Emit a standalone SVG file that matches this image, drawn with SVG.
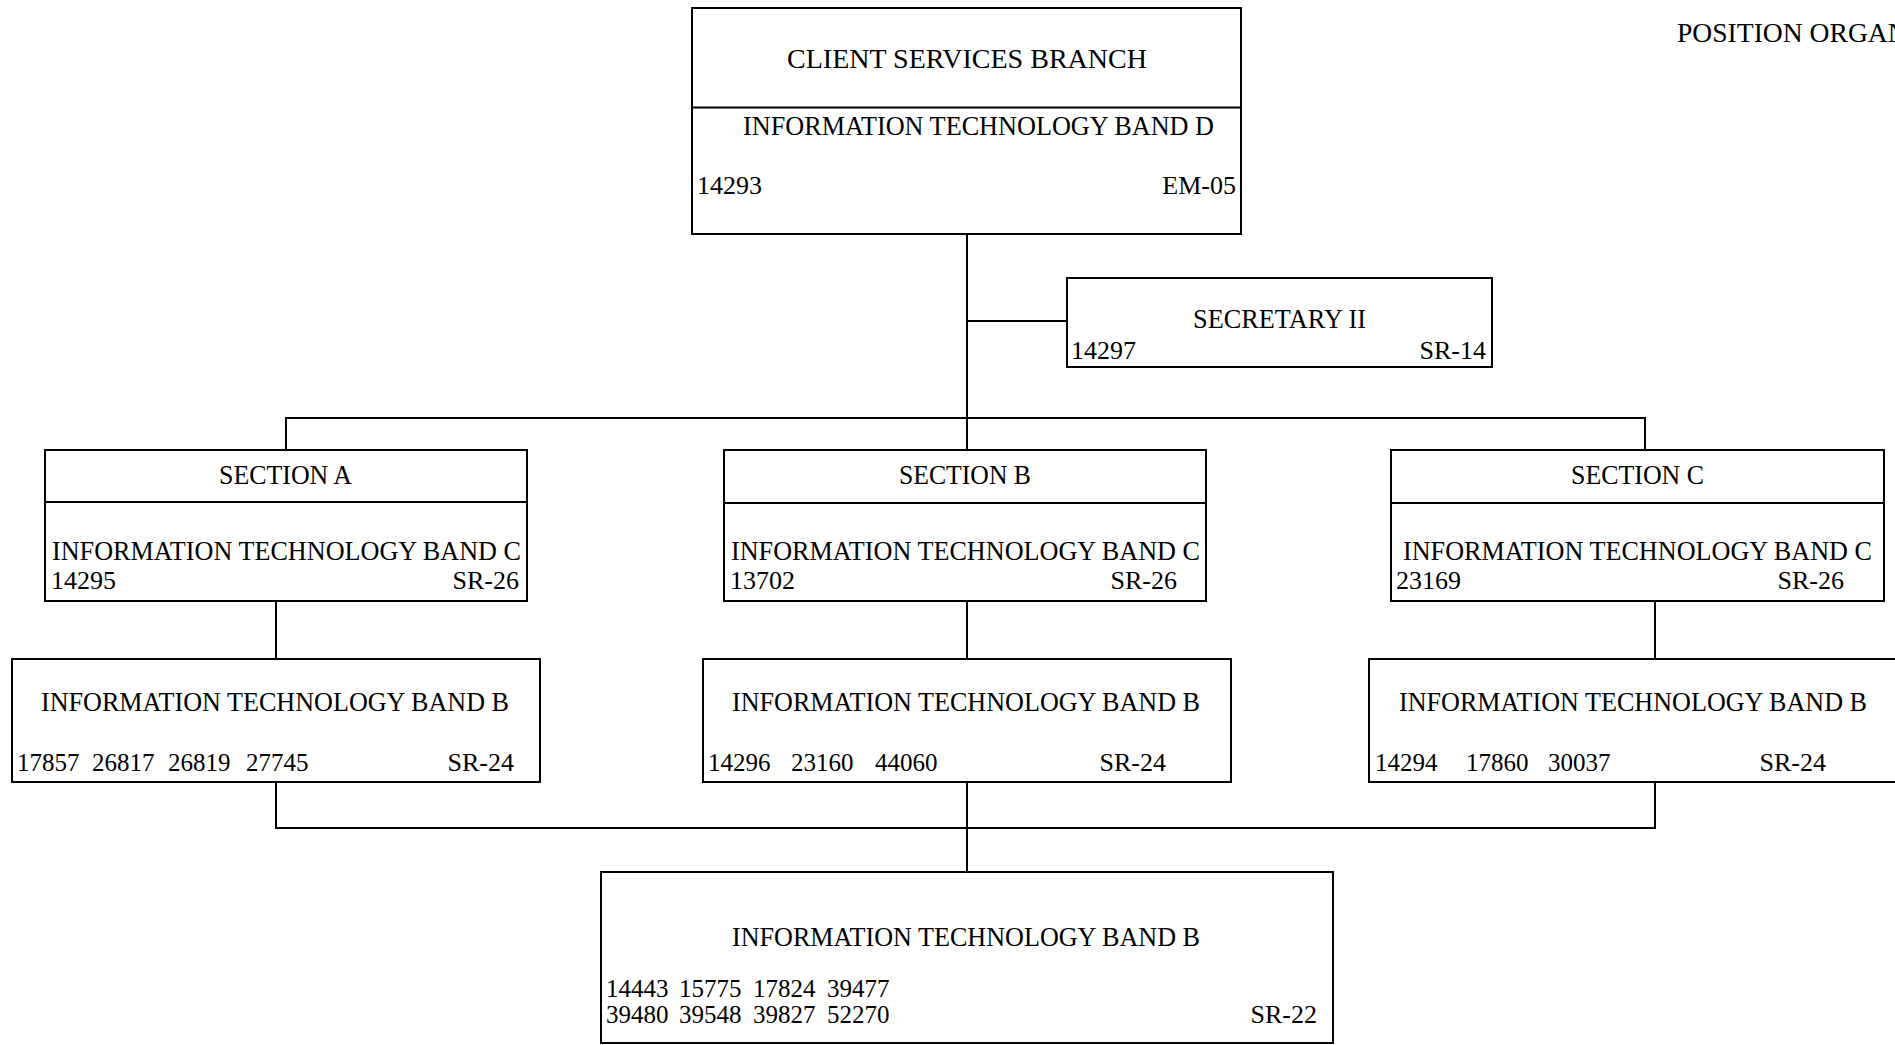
<svg xmlns="http://www.w3.org/2000/svg" width="1895" height="1045" viewBox="0 0 1895 1045">
<style>
  .box { fill: #fff; stroke: #000; stroke-width: 2; }
  .div { stroke: #000; stroke-width: 2; fill: none; }
  .conn { stroke: #000; stroke-width: 2; fill: none; }
  text { font-family: "Liberation Serif", "Times New Roman", serif; fill: #000; }
  .t { font-size: 27.6px; }
  .n { font-size: 26px; }
  .r { font-size: 25px; }
  .m { text-anchor: middle; }
  .e { text-anchor: end; }
</style>
<rect width="1895" height="1045" fill="#fff"/>
<g id="connectors">
  <path class="conn" d="M967 234 V418"/>
  <path class="conn" d="M967 321 H1067"/>
  <path class="conn" d="M286 450 V418 H1645 V450"/>
  <path class="conn" d="M967 418 V450"/>
  <path class="conn" d="M276 601 V659"/>
  <path class="conn" d="M967 601 V659"/>
  <path class="conn" d="M1655 601 V659"/>
  <path class="conn" d="M276 782 V828 H1655 V782"/>
  <path class="conn" d="M967 782 V872"/>
</g>
<g id="title">
  <text class="t" x="1677" y="42">POSITION ORGAN</text>
</g>
<g id="node-branch">
  <rect class="box" x="692" y="8" width="549" height="226"/>
  <line class="div" x1="692" y1="107.5" x2="1241" y2="107.5"/>
  <text class="t" x="787" y="68" textLength="360" lengthAdjust="spacingAndGlyphs">CLIENT SERVICES BRANCH</text>
  <text class="t" x="743" y="135" textLength="471" lengthAdjust="spacingAndGlyphs">INFORMATION TECHNOLOGY BAND D</text>
  <text class="n" x="697" y="194">14293</text>
  <text class="n e" x="1236" y="194">EM-05</text>
</g>
<g id="node-secretary">
  <rect class="box" x="1067" y="278" width="425" height="89"/>
  <text class="t" x="1193" y="328" textLength="173" lengthAdjust="spacingAndGlyphs">SECRETARY II</text>
  <text class="n" x="1071" y="359">14297</text>
  <text class="n e" x="1486" y="359">SR-14</text>
</g>
<g id="node-section-a">
  <rect class="box" x="45" y="450" width="482" height="151"/>
  <line class="div" x1="45" y1="502" x2="527" y2="502"/>
  <text class="t" x="219" y="484" textLength="133" lengthAdjust="spacingAndGlyphs">SECTION A</text>
  <text class="t" x="52" y="560" textLength="469" lengthAdjust="spacingAndGlyphs">INFORMATION TECHNOLOGY BAND C</text>
  <text class="n" x="51" y="589">14295</text>
  <text class="n e" x="519" y="589">SR-26</text>
</g>
<g id="node-section-b">
  <rect class="box" x="724" y="450" width="482" height="151"/>
  <line class="div" x1="724" y1="503" x2="1206" y2="503"/>
  <text class="t" x="899" y="484" textLength="132" lengthAdjust="spacingAndGlyphs">SECTION B</text>
  <text class="t" x="731" y="560" textLength="469" lengthAdjust="spacingAndGlyphs">INFORMATION TECHNOLOGY BAND C</text>
  <text class="n" x="730" y="589">13702</text>
  <text class="n e" x="1177" y="589">SR-26</text>
</g>
<g id="node-section-c">
  <rect class="box" x="1391" y="450" width="493" height="151"/>
  <line class="div" x1="1391" y1="503" x2="1884" y2="503"/>
  <text class="t" x="1571" y="484" textLength="133" lengthAdjust="spacingAndGlyphs">SECTION C</text>
  <text class="t" x="1403" y="560" textLength="469" lengthAdjust="spacingAndGlyphs">INFORMATION TECHNOLOGY BAND C</text>
  <text class="n" x="1396" y="589">23169</text>
  <text class="n e" x="1844" y="589">SR-26</text>
</g>
<g id="node-a-band-b">
  <rect class="box" x="12" y="659" width="528" height="123"/>
  <text class="t" x="41" y="711" textLength="468" lengthAdjust="spacingAndGlyphs">INFORMATION TECHNOLOGY BAND B</text>
  <text class="r" y="771"><tspan x="17">17857</tspan><tspan x="92">26817</tspan><tspan x="168">26819</tspan><tspan x="246">27745</tspan></text>
  <text class="n e" x="514" y="771">SR-24</text>
</g>
<g id="node-b-band-b">
  <rect class="box" x="703" y="659" width="528" height="123"/>
  <text class="t" x="732" y="711" textLength="468" lengthAdjust="spacingAndGlyphs">INFORMATION TECHNOLOGY BAND B</text>
  <text class="r" y="771"><tspan x="708">14296</tspan><tspan x="791">23160</tspan><tspan x="875">44060</tspan></text>
  <text class="n e" x="1166" y="771">SR-24</text>
</g>
<g id="node-c-band-b">
  <rect class="box" x="1369" y="659" width="528" height="123"/>
  <text class="t" x="1399" y="711" textLength="468" lengthAdjust="spacingAndGlyphs">INFORMATION TECHNOLOGY BAND B</text>
  <text class="r" y="771"><tspan x="1375">14294</tspan><tspan x="1466">17860</tspan><tspan x="1548">30037</tspan></text>
  <text class="n e" x="1826" y="771">SR-24</text>
</g>
<g id="node-pool-band-b">
  <rect class="box" x="601" y="872" width="732" height="171"/>
  <text class="t" x="732" y="946" textLength="468" lengthAdjust="spacingAndGlyphs">INFORMATION TECHNOLOGY BAND B</text>
  <text class="r" y="997"><tspan x="606">14443</tspan><tspan x="679">15775</tspan><tspan x="753">17824</tspan><tspan x="827">39477</tspan></text>
  <text class="r" y="1023"><tspan x="606">39480</tspan><tspan x="679">39548</tspan><tspan x="753">39827</tspan><tspan x="827">52270</tspan></text>
  <text class="n e" x="1317" y="1023">SR-22</text>
</g>
</svg>
